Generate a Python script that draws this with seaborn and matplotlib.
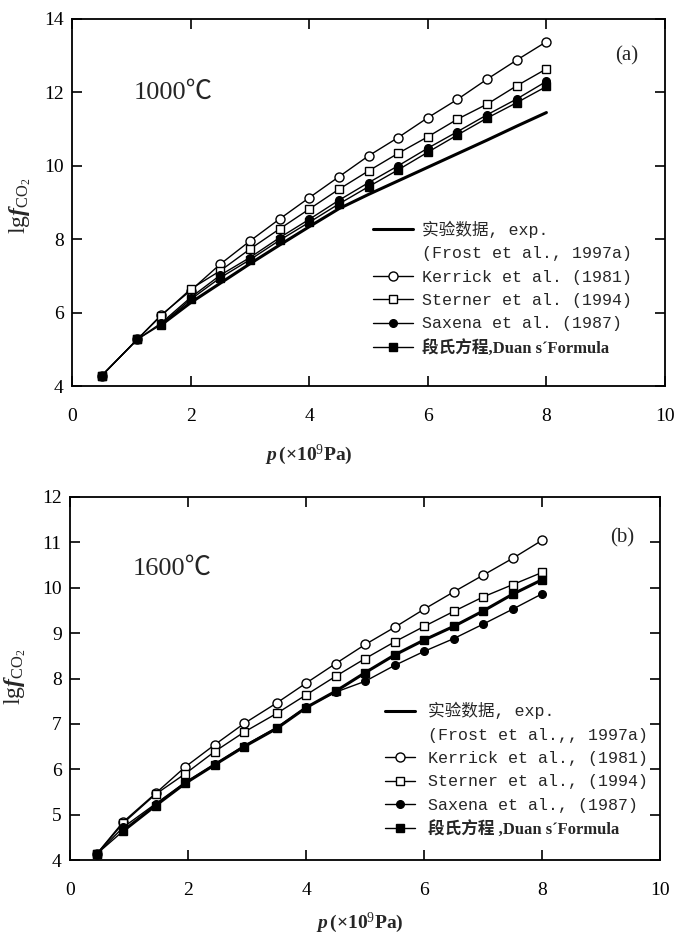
import matplotlib
matplotlib.use('Agg')
import matplotlib.pyplot as plt
from matplotlib.lines import Line2D
import seaborn as sns


# =============================================================================
# Data
# =============================================================================

# (a) 1000 C
p_a = [0.5, 1.1, 1.5, 2.0, 2.5, 3.0, 3.5, 4.0, 4.5, 5.0, 5.5, 6.0, 6.5, 7.0, 7.5, 8.0]
kerrick_a = [4.28, 5.27, 5.93, 6.60, 7.32, 7.95, 8.55, 9.13, 9.70, 10.27, 10.77, 11.31, 11.81, 12.36, 12.88, 13.38]
sterner_a = [4.28, 5.27, 5.91, 6.64, 7.14, 7.73, 8.28, 8.82, 9.36, 9.86, 10.34, 10.79, 11.27, 11.68, 12.18, 12.64]
saxena_a = [4.28, 5.27, 5.71, 6.41, 7.02, 7.50, 8.04, 8.54, 9.06, 9.54, 10.00, 10.48, 10.93, 11.39, 11.82, 12.30]
duan_a = [4.28, 5.27, 5.67, 6.36, 6.95, 7.44, 7.97, 8.46, 8.96, 9.43, 9.89, 10.37, 10.84, 11.30, 11.72, 12.16]
p_exp_a = [1.5, 2.0, 2.5, 3.0, 3.5, 4.0, 4.5, 5.0, 5.5, 6.0, 6.5, 7.0, 7.5, 8.0]
exp_a = [5.66, 6.27, 6.80, 7.33, 7.84, 8.34, 8.83, 9.22, 9.59, 9.96, 10.33, 10.70, 11.08, 11.45]

# (b) 1600 C
p_b = [0.45, 0.9, 1.45, 1.95, 2.45, 2.95, 3.5, 4.0, 4.5, 5.0, 5.5, 6.0, 6.5, 7.0, 7.5, 8.0]
kerrick_b = [4.13, 4.84, 5.47, 6.05, 6.54, 7.01, 7.46, 7.90, 8.33, 8.75, 9.13, 9.53, 9.91, 10.28, 10.65, 11.05]
sterner_b = [4.13, 4.81, 5.45, 5.90, 6.39, 6.82, 7.23, 7.64, 8.05, 8.44, 8.81, 9.15, 9.48, 9.80, 10.07, 10.34]
saxena_b = [4.13, 4.72, 5.24, 5.71, 6.11, 6.52, 6.92, 7.37, 7.70, 7.94, 8.29, 8.60, 8.88, 9.20, 9.53, 9.87]
duan_b = [4.13, 4.64, 5.20, 5.69, 6.10, 6.50, 6.90, 7.36, 7.72, 8.13, 8.52, 8.85, 9.15, 9.49, 9.86, 10.18]
p_exp_b = [0.9, 1.45, 1.95, 2.45, 2.95, 3.5, 4.0, 4.5, 5.0, 5.5, 6.0, 6.5, 7.0, 7.5, 8.0]
exp_b = [4.64, 5.20, 5.69, 6.10, 6.50, 6.90, 7.36, 7.72, 8.13, 8.52, 8.85, 9.15, 9.49, 9.86, 10.18]

labels_a = ['实验数据, exp.', '(Frost et al., 1997a)', 'Kerrick et al. (1981)',
            'Sterner et al. (1994)', 'Saxena et al. (1987)', '段氏方程,Duan s´Formula']
labels_b = ['实验数据, exp.', '(Frost et al.,, 1997a)', 'Kerrick et al., (1981)',
            'Sterner et al., (1994)', 'Saxena et al., (1987)', '段氏方程 ,Duan s´Formula']


# =============================================================================
# Style
# =============================================================================

sns.set_theme(style='ticks')
plt.rcParams['font.family'] = ['Liberation Serif', 'Noto Sans CJK SC']
plt.rcParams['mathtext.fontset'] = 'custom'
plt.rcParams['mathtext.rm'] = 'Liberation Serif'
plt.rcParams['mathtext.it'] = 'Liberation Serif:italic:bold'
plt.rcParams['mathtext.bf'] = 'Liberation Serif:bold'

serif = ['Liberation Serif', 'Noto Sans CJK SC']
mono = ['Liberation Mono', 'Noto Sans CJK SC']

styles = {
    'kerrick': dict(marker='o', markersize=6.5, markerfacecolor='white'),
    'sterner': dict(marker='s', markersize=5.5, markerfacecolor='white'),
    'saxena': dict(marker='o', markersize=5.5, markerfacecolor='black'),
    'duan': dict(marker='s', markersize=5.5, markerfacecolor='black'),
}


def draw_panel(ax, p, series, p_exp, exp, ylim, yticks, temp_text, temp_xy, tag_xy, tag,
               labels, leg_anchor, handlelen, textpad, ylab_xy, xlab_xy):
    sns.lineplot(x=p_exp, y=exp, ax=ax, color='black', lw=2.2, legend=False)
    for key, vals in series:
        sns.lineplot(x=p, y=vals, ax=ax, color='black', lw=1.0, markeredgecolor='black',
                     markeredgewidth=1.0, legend=False, **styles[key])

    ax.set_xlim(0, 10)
    ax.set_ylim(*ylim)
    ax.set_xticks([0, 2, 4, 6, 8, 10])
    ax.set_yticks(yticks)
    ax.tick_params(direction='in', length=7, width=1.2, top=True, right=True,
                   labelsize=14, colors='black')
    ax.tick_params(axis='x', pad=16)
    ax.tick_params(axis='y', pad=6)
    for s in ax.spines.values():
        s.set_linewidth(1.3)
        s.set_color('black')

    ax.set_ylabel(r'lg$f_{\mathrm{CO_2}}$', fontsize=17, family=serif)
    ax.yaxis.set_label_coords(*ylab_xy)
    ax.set_xlabel(r'$p\,$(×10$^{9}$Pa)', fontsize=14, fontweight='bold', family=serif)
    ax.xaxis.set_label_coords(*xlab_xy)

    ax.text(*temp_xy, temp_text, fontsize=19, family=serif, ha='center', va='center')
    ax.text(*tag_xy, tag, fontsize=15, family=serif, ha='center', va='center')

    handles = [
        Line2D([], [], color='black', lw=2.2),
        Line2D([], [], color='none'),
    ]
    for key in ['kerrick', 'sterner', 'saxena', 'duan']:
        handles.append(Line2D([], [], color='black', lw=1.0, markeredgecolor='black', **styles[key]))
    leg = ax.legend(handles, labels, loc='upper left', bbox_to_anchor=leg_anchor,
                    frameon=False, borderpad=0, borderaxespad=0, handlelength=handlelen,
                    handletextpad=textpad, labelspacing=0.5, prop={'family': mono, 'size': 12})
    leg.get_texts()[-1].set_fontfamily(serif)
    leg.get_texts()[-1].set_fontweight('bold')


fig = plt.figure(figsize=(6.75, 9.34), dpi=100)
ax1 = fig.add_axes([0.1067, 0.5867, 0.8785, 0.393])
ax2 = fig.add_axes([0.1037, 0.0792, 0.8748, 0.3887])

draw_panel(ax1, p_a,
           [('kerrick', kerrick_a), ('sterner', sterner_a), ('saxena', saxena_a), ('duan', duan_a)],
           p_exp_a, exp_a, (4, 14), [4, 6, 8, 10, 12, 14], '1000℃', (1.7, 12.0), (9.36, 12.99),
           '(a)', labels_a, (0.508, 0.45), 2.4, 0.5, (-0.066, 0.49), (0.40, -0.155))

draw_panel(ax2, p_b,
           [('kerrick', kerrick_b), ('sterner', sterner_b), ('saxena', saxena_b), ('duan', duan_b)],
           p_exp_b, exp_b, (4, 12), [4, 5, 6, 7, 8, 9, 10, 11, 12], '1600℃', (1.73, 10.41), (9.35, 11.11),
           '(b)', labels_b, (0.533, 0.435), 1.8, 0.8, (-0.071, 0.505), (0.49, -0.14))

fig.savefig('out.png', dpi=100)
